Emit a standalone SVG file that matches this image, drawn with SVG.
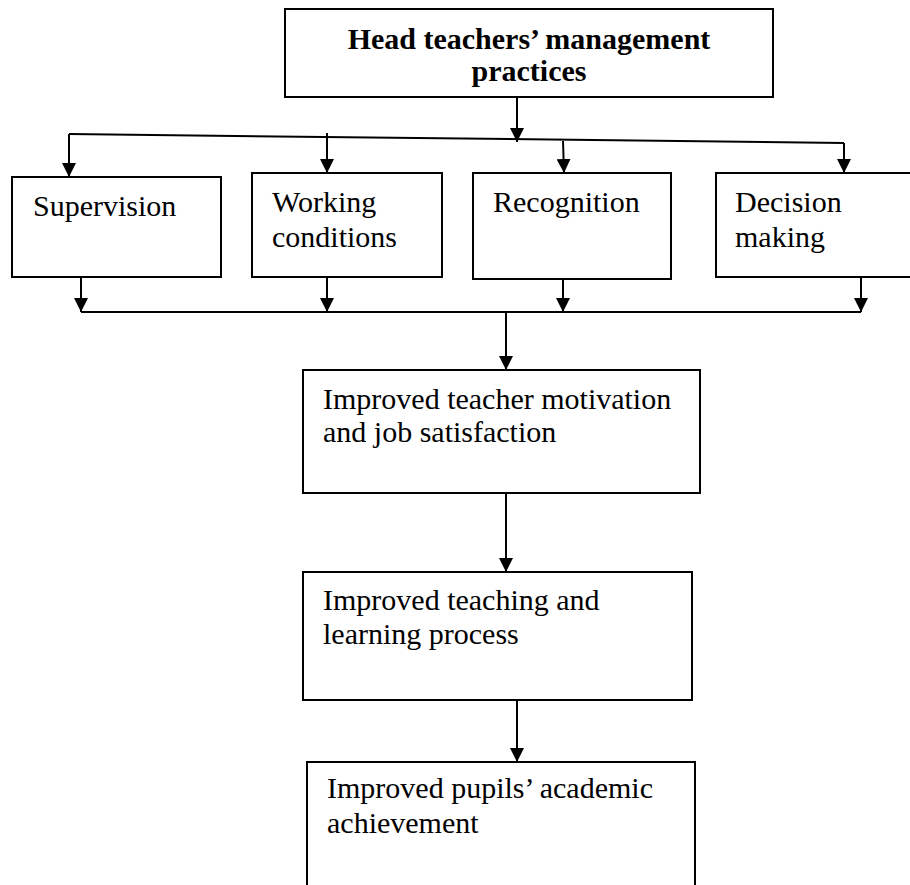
<svg xmlns="http://www.w3.org/2000/svg" width="910" height="885" viewBox="0 0 910 885">
<defs>
<marker id="ah" markerUnits="userSpaceOnUse" markerWidth="14" markerHeight="14" refX="14" refY="7" orient="auto">
<path d="M0,0 L14,7 L0,14 z" fill="#000"/>
</marker>
<style>
.box{fill:#fff;stroke:#000;stroke-width:2}
.t{font-family:"Liberation Serif","Times New Roman",serif;font-size:30px;fill:#000}
.b{font-weight:bold}
.c{fill:none;stroke:#000;stroke-width:2}
.a{fill:none;stroke:#000;stroke-width:2;marker-end:url(#ah)}
</style>
</defs>
<rect width="910" height="885" fill="#fff"/>
<g id="connectors">
<line class="a" x1="517" y1="97" x2="517" y2="142"/>
<line class="c" x1="69" y1="134" x2="844" y2="143"/>
<line class="a" x1="69" y1="134" x2="69" y2="177"/>
<line class="a" x1="327" y1="133" x2="327" y2="173"/>
<line class="a" x1="563" y1="141" x2="564" y2="173"/>
<line class="a" x1="844" y1="143" x2="844" y2="173"/>
<line class="a" x1="81" y1="277" x2="81" y2="312"/>
<line class="a" x1="327" y1="277" x2="327" y2="312"/>
<line class="a" x1="563" y1="279" x2="563" y2="312"/>
<line class="a" x1="861" y1="277" x2="861" y2="312"/>
<line class="c" x1="81" y1="312" x2="861" y2="312"/>
<line class="a" x1="506" y1="312" x2="506" y2="370"/>
<line class="a" x1="506" y1="493" x2="506" y2="572"/>
<line class="a" x1="517" y1="700" x2="517" y2="762"/>
</g>
<g id="head">
<rect class="box" x="285" y="9" width="488" height="88"/>
<text class="t b" x="529" y="49" text-anchor="middle">Head teachers’ management</text>
<text class="t b" x="529" y="81" text-anchor="middle">practices</text>
</g>
<g id="supervision">
<rect class="box" x="12" y="177" width="209" height="100"/>
<text class="t" x="33" y="216">Supervision</text>
</g>
<g id="working">
<rect class="box" x="252" y="173" width="190" height="104"/>
<text class="t" x="272" y="212">Working</text>
<text class="t" x="272" y="247">conditions</text>
</g>
<g id="recognition">
<rect class="box" x="473" y="173" width="198" height="106"/>
<text class="t" x="493" y="212">Recognition</text>
</g>
<g id="decision">
<rect class="box" x="716" y="173" width="204" height="104"/>
<text class="t" x="735" y="212">Decision</text>
<text class="t" x="735" y="247">making</text>
</g>
<g id="motivation">
<rect class="box" x="303" y="370" width="397" height="123"/>
<text class="t" x="323" y="409">Improved teacher motivation</text>
<text class="t" x="323" y="442">and job satisfaction</text>
</g>
<g id="teaching">
<rect class="box" x="303" y="572" width="389" height="128"/>
<text class="t" x="323" y="610">Improved teaching and</text>
<text class="t" x="323" y="644">learning process</text>
</g>
<g id="pupils">
<rect class="box" x="307" y="762" width="388" height="140"/>
<text class="t" x="327" y="798">Improved pupils’ academic</text>
<text class="t" x="327" y="833">achievement</text>
</g>
</svg>
